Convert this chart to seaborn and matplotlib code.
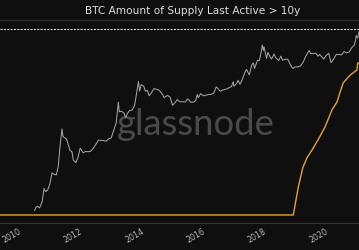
import numpy as np
import pandas as pd
import matplotlib
matplotlib.use("Agg")
import matplotlib.pyplot as plt
from matplotlib.lines import Line2D
import seaborn as sns

# ---------------- data ----------------
title = "BTC Amount of Supply Last Active > 10y"
watermark = "glassnode"

price_dates = [
    "2010-07-18", "2010-08-01", "2010-08-20", "2010-09-15", "2010-10-15", "2010-11-07",
    "2010-11-25", "2010-12-20", "2011-01-15", "2011-02-10", "2011-03-05", "2011-04-01",
    "2011-04-25", "2011-05-15", "2011-06-08", "2011-06-20", "2011-07-10", "2011-08-01",
    "2011-08-20", "2011-09-10", "2011-10-05", "2011-10-20", "2011-11-18", "2011-12-15",
    "2012-01-10", "2012-02-15", "2012-03-15", "2012-04-15", "2012-05-15", "2012-06-15",
    "2012-07-15", "2012-08-15", "2012-09-15", "2012-10-15", "2012-11-15", "2012-12-15",
    "2013-01-15", "2013-02-15", "2013-03-15", "2013-04-09", "2013-04-20", "2013-05-15",
    "2013-06-15", "2013-07-05", "2013-07-25", "2013-08-20", "2013-09-20", "2013-10-20",
    "2013-11-18", "2013-12-04", "2013-12-18", "2014-01-05", "2014-02-05", "2014-02-25",
    "2014-03-20", "2014-04-10", "2014-05-01", "2014-06-05", "2014-07-05", "2014-08-05",
    "2014-08-25", "2014-09-20", "2014-10-05", "2014-11-15", "2014-12-15", "2015-01-14",
    "2015-02-10", "2015-03-10", "2015-04-10", "2015-05-15", "2015-06-15", "2015-07-12",
    "2015-08-20", "2015-09-15", "2015-10-15", "2015-11-04", "2015-11-15", "2015-12-15",
    "2016-01-15", "2016-02-15", "2016-03-15", "2016-04-15", "2016-05-15", "2016-06-17",
    "2016-07-10", "2016-08-02", "2016-09-15", "2016-10-15", "2016-11-15", "2016-12-15",
    "2017-01-04", "2017-01-12", "2017-02-15", "2017-03-03", "2017-03-25", "2017-04-15",
    "2017-05-25", "2017-06-12", "2017-07-15", "2017-08-15", "2017-09-01", "2017-09-15",
    "2017-10-20", "2017-11-12", "2017-11-29", "2017-12-17", "2017-12-30", "2018-01-06",
    "2018-02-06", "2018-02-20", "2018-03-15", "2018-04-06", "2018-05-05", "2018-05-28",
    "2018-06-29", "2018-07-25", "2018-08-14", "2018-09-15", "2018-10-15", "2018-11-25",
    "2018-12-15", "2019-01-15", "2019-02-15", "2019-03-15", "2019-04-15", "2019-05-15",
    "2019-06-26", "2019-07-15", "2019-08-15", "2019-09-15", "2019-10-10", "2019-10-28",
    "2019-12-17", "2020-01-15", "2020-02-14", "2020-03-13", "2020-04-15", "2020-05-15",
    "2020-06-15", "2020-07-15", "2020-08-15", "2020-09-15", "2020-10-15", "2020-11-15",
    "2020-12-15", "2020-12-31", "2021-01-08", "2021-01-25", "2021-02-09",
]
price_usd = [
    0.05, 0.065, 0.07, 0.062, 0.1, 0.28,
    0.22, 0.25, 0.4, 0.95, 0.85, 0.8,
    1.6, 7, 29, 16, 14.5, 13,
    9, 5.5, 4.8, 2.6, 2.1, 3.1,
    6.5, 4.5, 5.0, 4.9, 5.1, 6.4,
    8.7, 12, 11.8, 11.7, 11.1, 13.3,
    14.5, 27, 47, 230, 110, 114,
    100, 70, 95, 120, 126, 180,
    600, 1150, 550, 900, 800, 540,
    580, 380, 450, 660, 630, 590,
    510, 400, 330, 390, 340, 180,
    220, 280, 240, 237, 235, 300,
    230, 230, 260, 420, 330, 450,
    380, 400, 415, 425, 455, 760,
    650, 540, 610, 640, 710, 780,
    1130, 800, 1000, 1280, 930, 1190,
    2400, 2950, 1930, 4300, 4900, 3200,
    6000, 5900, 10000, 19500, 13000, 17000,
    6900, 11200, 8200, 6600, 9800, 7100,
    5900, 8300, 6000, 6500, 6500, 3800,
    3200, 3600, 3600, 3900, 5100, 8000,
    12900, 10000, 10300, 10300, 8300, 9500,
    6600, 8800, 10300, 5000, 6800, 9500,
    9400, 9200, 11800, 10700, 11500, 16000,
    19400, 29000, 41000, 34000, 56000,
]

supply_dates = [
    "2009-01-03", "2018-12-20", "2019-02-15", "2019-04-10", "2019-05-30", "2019-07-30",
    "2019-10-08", "2020-01-01", "2020-03-25", "2020-05-22", "2020-06-28", "2020-08-05",
    "2020-10-25", "2021-01-15", "2021-01-26", "2021-02-10",
]
supply_btc_millions = [
    0.0, 0.0, 0.46, 0.80, 0.975, 1.11,
    1.28, 1.505, 1.80, 1.93, 2.10, 2.26,
    2.39, 2.48, 2.60, 2.60,
]

year_ticks = [2010, 2012, 2014, 2016, 2018, 2020]
year_labels = ["2010", "2012", "2014", "2016", "2018", "2020"]
reference_level = 68500  # dashed line, on the price axis


def to_year(ds):
    d = pd.to_datetime(pd.Series(ds))
    days = np.where(d.dt.is_leap_year, 366.0, 365.0)
    return (d.dt.year + (d.dt.dayofyear - 1) / days).to_numpy()


df_price = pd.DataFrame({"year": to_year(price_dates), "price": price_usd})
df_supply = pd.DataFrame({"year": to_year(supply_dates), "supply": supply_btc_millions})

# ---------------- styling ----------------
BG = "#0f0f0f"
sns.set_theme(style="dark")
plt.rcParams["font.family"] = ["DejaVu Sans"]

W, H = 359, 250
fig = plt.figure(figsize=(W / 100, H / 100), dpi=100, facecolor=BG)
ax_bottom_px, ax_top_px = 223, 21
ax = fig.add_axes([0, (H - ax_bottom_px) / H, 1, (ax_bottom_px - ax_top_px) / H])
ax.set_facecolor(BG)
ax2 = ax.twinx()

# watermark behind lines
ax.text(196 / W, (H - 135) / H, watermark, transform=fig.transFigure,
        family=["Lato", "DejaVu Sans"], fontsize=26.3, color="#4a4a4a",
        ha="center", va="baseline", zorder=0)

sns.lineplot(data=df_price, x="year", y="price", ax=ax, color="#a2a2a2",
             linewidth=0.75, legend=False, zorder=3)
ax.set_yscale("log")
ax.set_ylim(10 ** -1.718, 10 ** 5.106)
ax.axhline(reference_level, color="#d4d4d4", linestyle=(0, (2, 1)), linewidth=0.8, zorder=2)

sns.lineplot(data=df_supply, x="year", y="supply", ax=ax2, color="#e5a131",
             linewidth=1.0, legend=False, zorder=4)
ax2.set_ylim(-0.137, 3.318)

ax.set_xlim(2009.414, 2021.107)
for a in (ax, ax2):
    a.set_ylabel("")
    a.set_xlabel("")
    a.set_yticks([])
    a.grid(False)
    for s in a.spines.values():
        s.set_visible(False)
ax.yaxis.set_minor_locator(matplotlib.ticker.NullLocator())
ax.spines["bottom"].set_visible(True)
ax.spines["bottom"].set_color("#333333")
ax.spines["bottom"].set_linewidth(0.8)

ax.set_xticks(year_ticks)
ax.set_xticklabels(year_labels, rotation=30, ha="right", rotation_mode="anchor",
                   fontsize=5.7, color="#b4b4b4")
ax.tick_params(axis="x", length=0, pad=3)

# title and separator
fig.text(193 / W, 1 - 11 / H, title, ha="center", va="center", fontsize=7.6, color="#dedede")
fig.add_artist(Line2D([0, 1], [1 - 20 / H, 1 - 20 / H], color="#2c2c2c", linewidth=1.0))

fig.savefig("out.png", dpi=100, facecolor=BG)
